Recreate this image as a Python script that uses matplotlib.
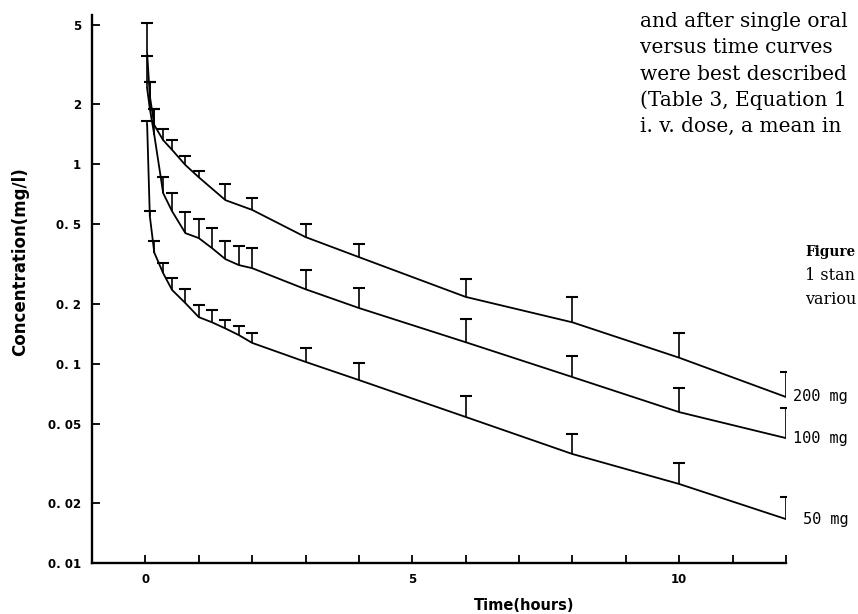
import matplotlib.pyplot as plt
import numpy as np

# Sampling times (hours) and mean / mean + 1 SD concentrations (mg/l)
t_200 = [0.033, 0.083, 0.167, 0.333, 0.5, 0.75, 1.0, 1.5, 2.0, 3, 4, 6, 8, 10, 12]
mean_200 = [3.6, 2.2, 1.57, 1.32, 1.18, 0.99, 0.86, 0.66, 0.59, 0.431, 0.342, 0.216, 0.161, 0.107, 0.068]
upper_200 = [5.1, 2.58, 1.89, 1.51, 1.32, 1.10, 0.92, 0.80, 0.68, 0.50, 0.397, 0.265, 0.216, 0.143, 0.091]

t_100 = [0.033, 0.083, 0.167, 0.333, 0.5, 0.75, 1.0, 1.25, 1.5, 1.75, 2.0, 3, 4, 6, 8, 10, 12]
mean_100 = [2.4, 1.9, 1.4, 0.716, 0.581, 0.451, 0.426, 0.379, 0.334, 0.312, 0.301, 0.236, 0.190, 0.128, 0.0856, 0.0571, 0.0423]
upper_100 = [3.5, 2.58, 1.89, 0.86, 0.716, 0.575, 0.530, 0.478, 0.411, 0.388, 0.379, 0.294, 0.239, 0.167, 0.109, 0.0754, 0.0598]

t_50 = [0.033, 0.083, 0.167, 0.333, 0.5, 0.75, 1.0, 1.25, 1.5, 1.75, 2.0, 3, 4, 6, 8, 10, 12]
mean_50 = [1.57, 0.55, 0.36, 0.284, 0.234, 0.201, 0.171, 0.161, 0.150, 0.139, 0.127, 0.102, 0.0827, 0.054, 0.0352, 0.0249, 0.0166]
upper_50 = [1.64, 0.58, 0.41, 0.32, 0.268, 0.236, 0.196, 0.185, 0.165, 0.154, 0.142, 0.120, 0.1006, 0.0687, 0.0443, 0.0317, 0.0214]

dose_labels = ['200 mg', '100 mg', '50 mg']
y_ticks = [0.01, 0.02, 0.05, 0.1, 0.2, 0.5, 1, 2, 5]
y_tick_labels = ['0. 01', '0. 02', '0. 05', '0. 1', '0. 2', '0. 5', '1', '2', '5']
x_ticks = list(range(0, 13))
x_tick_labels = ['0', '', '', '', '', '5', '', '', '', '', '10', '', '']

fig = plt.figure(figsize=(8.58, 6.14), dpi=100)
ax = fig.add_axes([92 / 858, 51 / 614, 694 / 858, 548 / 614])

series = [(t_200, mean_200, upper_200), (t_100, mean_100, upper_100), (t_50, mean_50, upper_50)]
label_dx = [5, 5, 12]
for (t, m, u), lab, dx in zip(series, dose_labels, label_dx):
    ax.plot(t, m, color='black', lw=1.3, solid_joinstyle='round')
    # one-sided bars: mean up to mean + SD, with a cap on top
    ax.vlines(t, m, u, color='black', lw=1.2)
    ax.plot(t, u, ls='none', marker='_', ms=9, mew=1.5, color='black')
    ax.annotate(lab, (t[-1], m[-1]), xytext=(dx, 0), textcoords='offset points',
                fontsize=11, family='DejaVu Sans Mono', va='center', ha='left',
                annotation_clip=False)

ax.set_yscale('log')
ax.set_ylim(0.01, 5.6)
ax.set_xlim(-1, 12)
ax.set_yticks(y_ticks)
ax.set_yticklabels(y_tick_labels, fontweight='bold', fontsize=8.5)
ax.yaxis.set_minor_locator(plt.NullLocator())
ax.set_xticks(x_ticks)
ax.set_xticklabels(x_tick_labels, fontweight='bold', fontsize=8.5)
ax.tick_params(direction='in', length=5.5, width=1.3)
ax.tick_params(axis='y', pad=8)
ax.tick_params(axis='x', pad=7)

for s in ['top', 'right']:
    ax.spines[s].set_visible(False)
for s in ['left', 'bottom']:
    ax.spines[s].set_linewidth(1.7)

fig.text(524 / 858, 1 - 606 / 614, 'Time(hours)', fontweight='bold', fontsize=10.5,
         ha='center', va='center')
fig.text(20 / 858, 1 - 262 / 614, 'Concentration(mg/l)', fontweight='bold', fontsize=12,
         rotation=90, ha='center', va='center')

# Surrounding page text
body = ['and after single oral',
        'versus time curves',
        'were best described',
        '(Table 3, Equation 1',
        'i. v. dose, a mean in']
for i, line in enumerate(body):
    fig.text(640 / 858, 1 - (27 + 26.3 * i) / 614, line, family='DejaVu Serif',
             fontsize=14.5, va='baseline', ha='left')
caption = ['Figure', '1 stan', 'variou']
caption_size = [9.8, 11.5, 11.5]
for i, line in enumerate(caption):
    fig.text(805 / 858, 1 - (256 + 24 * i) / 614, line, family='DejaVu Serif',
             fontsize=caption_size[i], fontweight='bold' if i == 0 else 'normal',
             va='baseline')

plt.savefig('out.png', dpi=100)
